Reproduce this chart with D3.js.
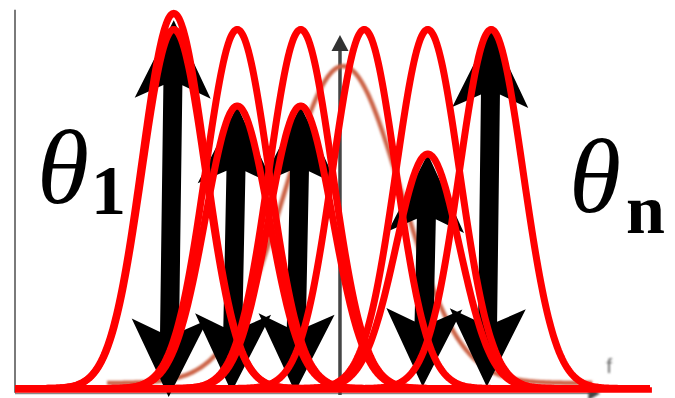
<!DOCTYPE html>
<html>
<head>
<meta charset="utf-8">
<script src="https://cdn.jsdelivr.net/npm/d3@7"></script>
<style>
  html, body { margin: 0; padding: 0; background: #fff; }
  svg { display: block; }
</style>
</head>
<body>
<svg id="chart" width="675" height="398"></svg>
<script>
// Frequency domain of the sketch (arbitrary units)
const xDomain = [0, 10];
const yDomain = [0, 1];

// Gaussian kernels (red): centre, peak height, common spread
const kernelCenters = [2.5, 2.5, 3.5, 4.5, 5.5, 6.5, 7.5, 3.5, 4.5, 6.5];
const kernelHeights = [1.045, 1.0, 1.0, 1.0, 1.0, 1.0, 1.0, 0.787, 0.787, 0.653];
const kernelSigma = 0.5;

// Weight arrows (black, double headed): top and foot positions
const arrowTopX = [2.5, 3.5, 4.5, 6.5, 7.5];
const arrowTopY = [1.026, 0.787, 0.787, 0.653, 1.0];
const arrowFootX = [2.42, 3.41, 4.41, 6.42, 7.43];
const arrowFootY = [-0.024, -0.01, -0.01, 0.005, 0.005];

// Underlying spectrum (brown, faded)
const spectrumCenter = 5.165;
const spectrumSigma = 0.913;
const spectrumHeight = 0.883;
const spectrumFloor = 0.015;
const spectrumSpan = [1.45, 9.1];

// Annotation labels
const leftLabel = { symbol: "θ", sub: "1" };
const rightLabel = { symbol: "θ", sub: "n" };
const axisLabel = "f";

const W = 675, H = 398;
const svg = d3.select("#chart");
const x = d3.scaleLinear().domain(xDomain).range([15, 650]);
const y = d3.scaleLinear().domain(yDomain).range([388.5, 29.5]);

// Blur filters in user space so thin vertical strokes are not clipped away
const defs = svg.append("defs");
[["soft", 1.1], ["softer", 0.6]].forEach(([id, sd]) => {
  defs.append("filter").attr("id", id)
    .attr("filterUnits", "userSpaceOnUse")
    .attr("x", 0).attr("y", 0).attr("width", W).attr("height", H)
    .append("feGaussianBlur").attr("stdDeviation", sd);
});

const gauss = (t, c, s, h) => h * Math.exp(-0.5 * ((t - c) / s) ** 2);

// Background axes of the spectrum plot
svg.append("line")
  .attr("x1", x(0)).attr("x2", x(0))
  .attr("y1", y(1.055)).attr("y2", y(-0.012))
  .attr("stroke", "#7a7a7a").attr("stroke-width", 2);

svg.append("line")
  .attr("x1", x(0)).attr("x2", x(9.05))
  .attr("y1", y(-0.014)).attr("y2", y(-0.014))
  .attr("stroke", "#8a8a8a").attr("stroke-width", 1.6);

svg.append("path")
  .attr("d", d3.line()([[x(9.03), y(0.004)], [x(9.215), y(-0.014)], [x(9.03), y(-0.032)]]) + "Z")
  .attr("fill", "#444").attr("filter", "url(#soft)");

const midAxisX = 5.118;
svg.append("line")
  .attr("x1", x(midAxisX)).attr("x2", x(midAxisX))
  .attr("y1", y(0.95)).attr("y2", y(-0.018))
  .attr("stroke", "#444").attr("stroke-width", 3.5).attr("filter", "url(#softer)");
svg.append("path")
  .attr("d", d3.line()([[x(midAxisX) - 8.5, y(0.94)], [x(midAxisX), y(0.985)], [x(midAxisX) + 8.5, y(0.94)]]) + "Z")
  .attr("fill", "#333").attr("filter", "url(#softer)");

svg.append("text")
  .attr("x", x(9.31)).attr("y", y(0.043))
  .attr("font-family", "Liberation Sans, Arial, sans-serif")
  .attr("font-size", 21).attr("fill", "#6a6a6a")
  .attr("filter", "url(#soft)")
  .text(axisLabel);

// Faded spectrum curve
const spectrumPts = d3.range(spectrumSpan[0], spectrumSpan[1] + 1e-9, 0.02)
  .map(t => [t, spectrumFloor + gauss(t, spectrumCenter, spectrumSigma, spectrumHeight)]);
svg.append("path")
  .attr("d", d3.line().x(d => x(d[0])).y(d => y(d[1]))(spectrumPts))
  .attr("fill", "none").attr("stroke", "#cc6548").attr("stroke-width", 4.5)
  .attr("filter", "url(#soft)");

// Double headed weight arrows
const headLen = 78, headHalf = 38, notch = 13, shaftHalf = 9.5;
arrowTopX.forEach((tx, i) => {
  const x0 = x(tx), y0 = y(arrowTopY[i]);
  const x1 = x(arrowFootX[i]), y1 = y(arrowFootY[i]);
  const L = Math.hypot(x1 - x0, y1 - y0);
  const ang = Math.atan2(x0 - x1, y1 - y0) * 180 / Math.PI;
  const pts = [
    [0, 0], [headHalf, headLen], [shaftHalf, headLen - notch],
    [shaftHalf, L - headLen + notch], [headHalf, L - headLen], [0, L],
    [-headHalf, L - headLen], [-shaftHalf, L - headLen + notch],
    [-shaftHalf, headLen - notch], [-headHalf, headLen]
  ];
  svg.append("path")
    .attr("d", d3.line()(pts) + "Z")
    .attr("transform", `translate(${x0},${y0}) rotate(${ang})`)
    .attr("fill", "#000");
});

// Red Gaussian kernels
const grid = d3.range(xDomain[0], xDomain[1] + 1e-9, 0.02);
const kernelLine = d3.line().x(d => x(d[0])).y(d => y(d[1]));
kernelCenters.forEach((c, i) => {
  svg.append("path")
    .attr("d", kernelLine(grid.map(t => [t, gauss(t, c, kernelSigma, kernelHeights[i])])))
    .attr("fill", "none").attr("stroke", "#ff0000").attr("stroke-width", 7)
    .attr("stroke-linejoin", "round");
});

svg.append("line")
  .attr("x1", x(0)).attr("x2", x(10.03))
  .attr("y1", y(-0.004)).attr("y2", y(-0.004))
  .attr("stroke", "#ff0000").attr("stroke-width", 5.5);

// θ labels
function thetaLabel(lbl, px, py, subX, subY) {
  const g = svg.append("g").attr("fill", "#000");
  g.append("text").attr("x", px).attr("y", py)
    .attr("font-family", "Liberation Serif, DejaVu Serif, serif")
    .attr("font-style", "italic").attr("font-size", 106)
    .text(lbl.symbol);
  g.append("text").attr("x", subX).attr("y", subY)
    .attr("font-family", "Liberation Serif, DejaVu Serif, serif")
    .attr("font-weight", "bold").attr("font-size", 70)
    .text(lbl.sub);
}
thetaLabel(leftLabel, 37, 203, 91, 214);
thetaLabel(rightLabel, 569, 212, 626, 233);
</script>
</body>
</html>
